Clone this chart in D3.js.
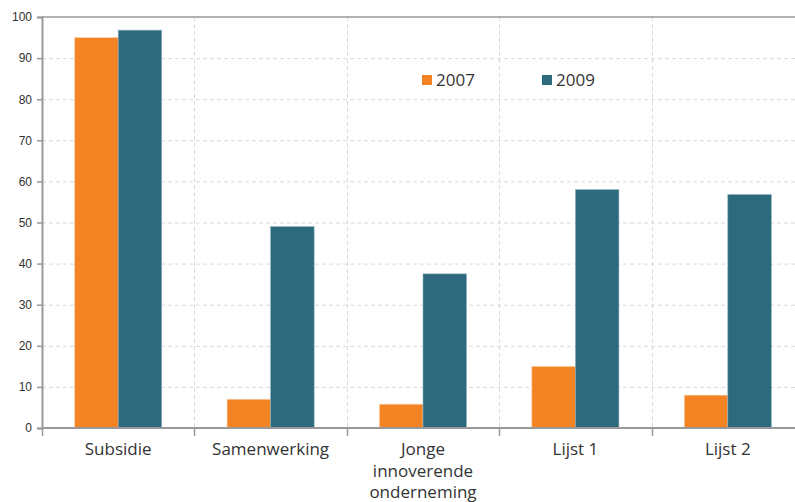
<!DOCTYPE html>
<html><head><meta charset="utf-8">
<script src="https://cdn.jsdelivr.net/npm/d3@7/dist/d3.min.js"></script>
<style>
body{margin:0;background:#fff;}
svg{display:block;}
</style></head>
<body>
<svg id="c" width="795" height="502"></svg>
<script>
const categories = ["Subsidie","Samenwerking","Jonge innoverende onderneming","Lijst 1","Lijst 2"];
const categoryLines = [["Subsidie"],["Samenwerking"],["Jonge","innoverende","onderneming"],["Lijst 1"],["Lijst 2"]];
const series = ["2007","2009"];
const values2007 = [95, 7, 5.8, 15, 8];
const values2009 = [96.8, 49, 37.5, 58, 56.8];
const yTicks = [0,10,20,30,40,50,60,70,80,90,100];
const colors = ["#f48423","#2e6a7e"];

const svg = d3.select("#c");
const m = {l:42, t:17, r:804, b:428};
const x = d3.scaleBand().domain(categories).range([m.l, m.r]).paddingInner(0).paddingOuter(0);
const x1 = d3.scaleBand().domain(series).range([0, x.bandwidth()]).paddingInner(0).paddingOuter(0.75);
const y = d3.scaleLinear().domain([0,100]).range([m.b, m.t]);

// horizontal grid
svg.append("g").selectAll("line").data(yTicks.filter(d=>d>0 && d<100)).join("line")
  .attr("x1", m.l).attr("x2", 795).attr("y1", d=>y(d)+0.5).attr("y2", d=>y(d)+0.5)
  .attr("stroke","#d9d9d9").attr("stroke-dasharray","4,3").attr("stroke-width",1);
// vertical grid
const bounds = categories.slice(1).map(c=>x(c));
svg.append("g").selectAll("line").data(bounds).join("line")
  .attr("x1", d=>Math.round(d)+0.5).attr("x2", d=>Math.round(d)+0.5).attr("y1", m.t).attr("y2", m.b)
  .attr("stroke","#d9d9d9").attr("stroke-dasharray","4,3").attr("stroke-width",1);
// top border
svg.append("line").attr("x1",m.l).attr("x2",795).attr("y1",m.t).attr("y2",m.t)
  .attr("stroke","#999").attr("stroke-width",1.5);

// bars
const data = categories.map((c,i)=>({c, v:[values2007[i], values2009[i]]}));
const g = svg.append("g");
data.forEach(d=>{
  series.forEach((s,j)=>{
    g.append("rect")
      .attr("x", x(d.c)+x1(s)).attr("width", x1.bandwidth())
      .attr("y", y(d.v[j])).attr("height", y(0)-y(d.v[j]))
      .attr("fill", colors[j]).attr("stroke", j===0?"#fbd3b0":"#8fb0bd").attr("stroke-width",0.6);
  });
});

// y axis
const ya = svg.append("g").attr("transform",`translate(${m.l},0)`)
  .call(d3.axisLeft(y).tickValues(yTicks).tickSize(5).tickPadding(5));
ya.select(".domain").attr("stroke","#999").attr("stroke-width",2);
ya.selectAll(".tick line").attr("stroke","#999").attr("stroke-width",1.5);
ya.selectAll(".tick text").attr("font-family","Liberation Sans, Arial, sans-serif").attr("font-size",12).attr("fill","#333");

// x axis
const xa = svg.append("g").attr("transform",`translate(0,${m.b})`);
xa.append("line").attr("x1",m.l).attr("x2",795).attr("y1",0).attr("y2",0).attr("stroke","#999").attr("stroke-width",2);
xa.selectAll("line.t").data([m.l, ...bounds]).join("line").attr("class","t")
  .attr("x1",d=>Math.round(d)+0.5).attr("x2",d=>Math.round(d)+0.5).attr("y1",0).attr("y2",8)
  .attr("stroke","#999").attr("stroke-width",1.5);
categories.forEach((c,i)=>{
  const t = xa.append("text").attr("x", x(c)+x.bandwidth()/2).attr("y", 27)
    .attr("text-anchor","middle").attr("font-family","Open Sans, DejaVu Sans, sans-serif").attr("font-size",17).attr("fill","#333");
  categoryLines[i].forEach((ln,k)=>{
    t.append("tspan").attr("x", x(c)+x.bandwidth()/2).attr("dy", k===0?0:21.5).text(ln);
  });
});

// legend
const legX = [422, 542];
series.forEach((s,j)=>{
  svg.append("rect").attr("x",legX[j]).attr("y",75).attr("width",10).attr("height",10).attr("fill",colors[j]);
  svg.append("text").attr("x",legX[j]+14).attr("y",86).text(s)
    .attr("font-family","Open Sans, DejaVu Sans, sans-serif").attr("font-size",17).attr("fill","#333");
});
</script>
</body></html>
